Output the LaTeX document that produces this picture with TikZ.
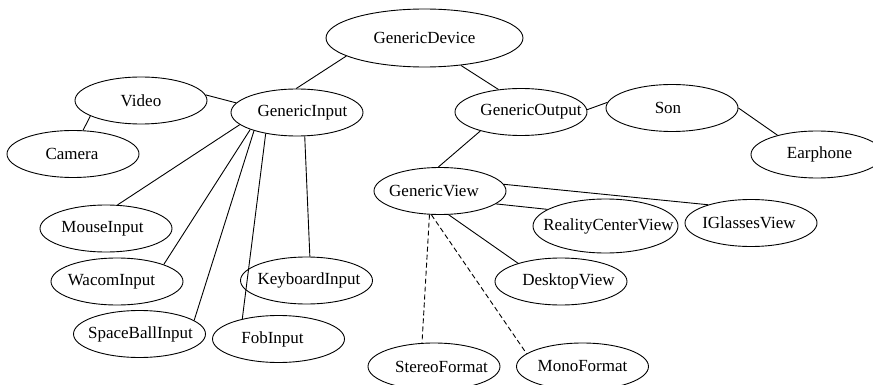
\documentclass[tikz,border=0pt]{standalone}
\usepackage{fontspec}
\setmainfont{Liberation Serif}
\usetikzlibrary{shapes.geometric}
\def\tx#1#2{\makebox[0pt]{\kern#1pt #2}}
\begin{document}
\begin{tikzpicture}[x=1pt,y=-1pt,
  ent/.style={ellipse, draw, line width=0.9pt, minimum width=132pt, minimum height=47pt, inner sep=0pt,
    font=\fontsize{17}{19}\selectfont},
  link/.style={line width=0.9pt},
  dlink/.style={line width=0.9pt, dash pattern=on 5pt off 3pt}]
\useasboundingbox (0,0) rectangle (873,385);
\clip (0,0) rectangle (873,385);
\node[ent, minimum width=197pt, minimum height=58pt] (gd) at (424.5,38) {\tx{0}{GenericDevice}};
\node[ent] (gi) at (297,112.5) {\tx{11}{GenericInput}};
\node[ent] (video) at (141,100.5) {\tx{0}{Video}};
\node[ent] (camera) at (73,154) {\tx{-2}{Camera}};
\node[ent] (mouse) at (106,228.5) {\tx{-7}{MouseInput}};
\node[ent] (wacom) at (117,281.5) {\tx{-11}{WacomInput}};
\node[ent] (space) at (139.5,334) {\tx{2}{SpaceBallInput}};
\node[ent] (fob) at (278.5,339) {\tx{-12}{FobInput}};
\node[ent] (key) at (306.5,280.5) {\tx{5}{KeyboardInput}};
\node[ent] (go) at (521,112) {\tx{20}{GenericOutput}};
\node[ent] (son) at (672,108) {\tx{-8}{Son}};
\node[ent] (ear) at (817,154.5) {\tx{5}{Earphone}};
\node[ent] (gv) at (440,191) {\tx{-12}{GenericView}};
\node[ent, minimum width=145pt, minimum height=54pt] (rcv) at (605.5,226) {\tx{6}{RealityCenterView}};
\node[ent] (igv) at (751,223) {\tx{-4}{IGlassesView}};
\node[ent] (dv) at (561,281.5) {\tx{15}{DesktopView}};
\node[ent] (sf) at (434,366.5) {\tx{15}{StereoFormat}};
\node[ent] (mf) at (582.5,366.5) {\tx{0}{MonoFormat}};
\draw[link] (gd.193.8) -- (gi.92);
\draw[link] (gd.323) -- (go.135);
\draw[link] (video.5.8) -- (gi.171.3);
\draw[link] (video.197.5) -- (camera.67.4);
\draw[link] (gi.192.7) -- (mouse.64.6);
\draw[link] (gi.200.3) -- (wacom.20.3);
\draw[link] (gi.203.4) -- (space.14.2);
\draw[link] (gi.214.7) -- (fob.151);
\draw[link] (gi.288.8) -- (key.82.7);
\draw[link] (go.2.6) -- (son.175.6);
\draw[link] (son.-0.9) -- (ear.154);
\draw[link] (go.205) -- (gv.94.8);
\draw[link] (gv.6.3) -- (igv.157.3);
\draw[link] (gv.-13.8) -- (rcv.164);
\draw[link] (gv.-70) -- (dv.157.2);
\draw[dlink] (gv.-114.9) -- (sf.117);
\draw[dlink] (gv.-110) -- (mf.167.2);
\end{tikzpicture}
\end{document}
